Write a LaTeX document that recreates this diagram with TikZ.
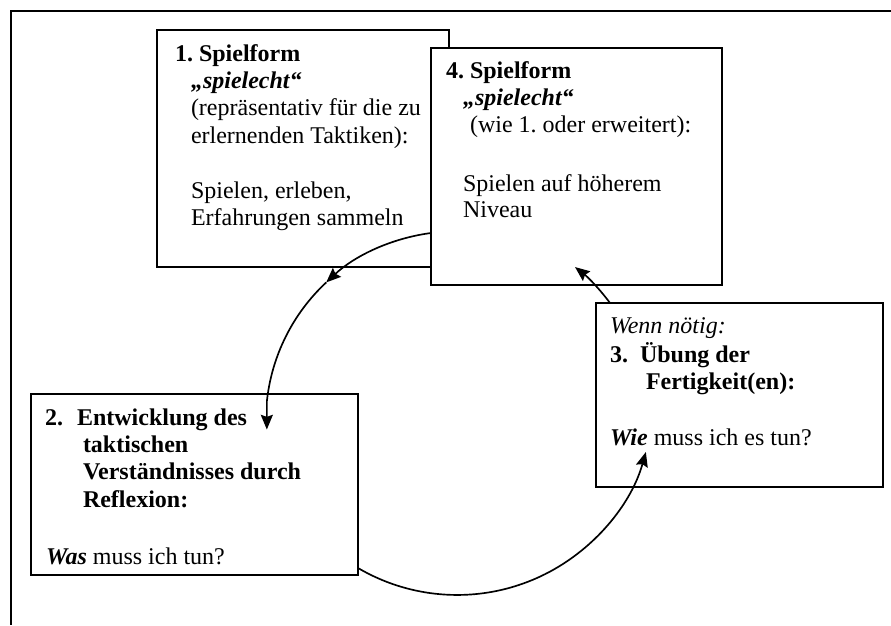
\documentclass[tikz,border=0pt]{standalone}
\usepackage{fontspec}
\setmainfont{Liberation Serif}
\usetikzlibrary{arrows.meta}
\frenchspacing
\begin{document}
\begin{tikzpicture}[x=0.75pt,y=-0.75pt,
  box/.style={draw, line width=1.4pt, fill=white, inner sep=0pt, outer sep=0pt},
  txt/.style={anchor=base west, inner sep=0pt, outer sep=0pt, font=\fontsize{18pt}{22pt}\selectfont},
  conn/.style={line width=1.25pt, -{Stealth[length=11pt,width=9pt,inset=1.5pt]}}]
\useasboundingbox (0,0) rectangle (891,625);
\draw[line width=1.4pt] (891,11) -- (11,11) -- (11,625);

% boxes
\node[box, minimum width=219pt, minimum height=177.75pt] (b1) at (303,148.5) {};
\node[box, minimum width=218.25pt, minimum height=177.75pt] (b4) at (576.5,166.5) {};
\node[box, minimum width=245.25pt, minimum height=135.75pt] (b2) at (194.5,484.5) {};
\node[box, minimum width=215.25pt, minimum height=138pt] (b3) at (739.5,395) {};

% box 1 text
\node[txt] (t1a) at (175,61) {\bfseries 1. Spielform};
\node[txt] (t1b) at (191,88) {\bfseries\itshape „spielecht“};
\node[txt] (t1c) at (191,115) {(repräsentativ für die zu};
\node[txt] (t1d) at (191,143) {erlernenden Taktiken):};
\node[txt] (t1e) at (191,198) {Spielen, erleben,};
\node[txt] (t1f) at (191,225) {Erfahrungen sammeln};

% box 4 text
\node[txt] (t4a) at (446,78) {\bfseries 4. Spielform};
\node[txt] (t4b) at (463,105) {\bfseries\itshape „spielecht“};
\node[txt] (t4c) at (470,132) {(wie 1. oder erweitert):};
\node[txt] (t4d) at (463,191) {Spielen auf höherem};
\node[txt] (t4e) at (463,217) {Niveau};

% box 2 text
\node[txt] (t2n) at (45,425) {\bfseries 2.};
\node[txt] (t2a) at (77,425) {\bfseries Entwicklung des};
\node[txt] (t2b) at (83,452) {\bfseries taktischen};
\node[txt] (t2c) at (83,479) {\bfseries Verständnisses durch};
\node[txt] (t2d) at (83,507) {\bfseries Reflexion:};
\node[txt] (t2e) at (46,564) {\textbf{\textit{Was}} muss ich tun?};

% box 3 text
\node[txt] (t3a) at (610,333) {\itshape Wenn nötig:};
\node[txt] (t3n) at (610,362) {\bfseries 3.};
\node[txt] (t3b) at (640,362) {\bfseries Übung der};
\node[txt] (t3c) at (646,389) {\bfseries Fertigkeit(en):};
\node[txt] (t3d) at (610,445) {\textbf{\textit{Wie}} muss ich es tun?};

% connectors
\draw[conn] (b4.west |- 0,233) arc[start angle=262.5, end angle=227, radius=190] coordinate (m1);
\draw[conn] (m1) arc[start angle=227, end angle=186, radius=190] -- ++(0,28);
\draw[conn] (b2.east |- 0,568) arc[start angle=120.4, end angle=15.7, radius=196];
\draw[conn] (b3.north -| 610,0) arc[start angle=323.5, end angle=308, radius=186];
\end{tikzpicture}
\end{document}
